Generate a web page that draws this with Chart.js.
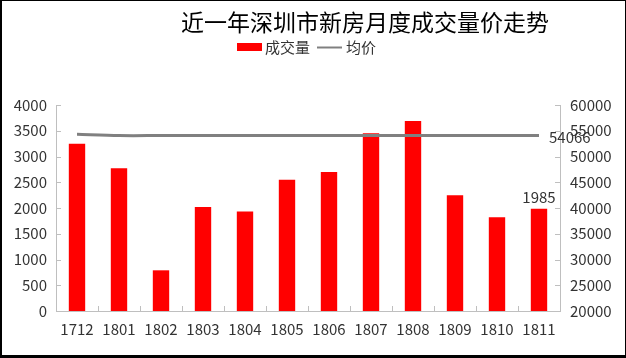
<!DOCTYPE html>
<html><head><meta charset="utf-8">
<script src="https://cdn.jsdelivr.net/npm/chart.js@4/dist/chart.umd.min.js"></script>
<style>html,body{margin:0;padding:0;background:#fff}#wrap{width:626px;height:358px;position:relative}</style>
</head><body><div id="wrap"><canvas id="c" width="626" height="358"></canvas></div>
<script>
const titleText = '近一年深圳市新房月度成交量价走势';
const categories = ['1712','1801','1802','1803','1804','1805','1806','1807','1808','1809','1810','1811'];
const volumeLabel = '成交量';
const volume = [3250, 2770, 790, 2020, 1930, 2550, 2700, 3450, 3690, 2250, 1820, 1985];
const priceLabel = '均价';
const price = [54300, 54066, 54066, 54066, 54066, 54066, 54066, 54066, 54066, 54066, 54066, 54066];
const leftTicks = [0, 500, 1000, 1500, 2000, 2500, 3000, 3500, 4000];
const rightTicks = [20000, 25000, 30000, 35000, 40000, 45000, 50000, 55000, 60000];

const FONT = '"Noto Sans CJK SC", "Noto Sans", sans-serif';
const TXT = '#333333';
const AX = '#bfbfbf';

const decor = {
  id: 'decor',
  afterDatasetsDraw(chart) {
    const ctx = chart.ctx;
    const ca = chart.chartArea;
    const x = chart.scales.x, yl = chart.scales.y, yr = chart.scales.y1;
    ctx.save();
    ctx.strokeStyle = AX; ctx.lineWidth = 1;
    ctx.beginPath();
    yl.ticks.forEach((t, i) => { const p = Math.round(yl.getPixelForTick(i)) + 0.5; ctx.moveTo(ca.left, p); ctx.lineTo(ca.left + 5, p); });
    yr.ticks.forEach((t, i) => { const p = Math.round(yr.getPixelForTick(i)) + 0.5; ctx.moveTo(ca.right - 5, p); ctx.lineTo(ca.right, p); });
    for (let i = 1; i < categories.length; i++) {
      const p = Math.round((x.getPixelForValue(i - 1) + x.getPixelForValue(i)) / 2) + 0.5;
      ctx.moveTo(p, ca.bottom); ctx.lineTo(p, ca.bottom - 5);
    }
    ctx.stroke();
    ctx.fillStyle = TXT;
    ctx.font = '15px ' + FONT;
    const barMeta = chart.getDatasetMeta(0);
    const lastBar = barMeta.data[volume.length - 1];
    ctx.textAlign = 'center'; ctx.textBaseline = 'bottom';
    ctx.fillText(String(volume[volume.length - 1]), lastBar.x, lastBar.y - 4);
    const lineMeta = chart.getDatasetMeta(1);
    const lastPt = lineMeta.data[price.length - 1];
    ctx.textAlign = 'left'; ctx.textBaseline = 'middle';
    ctx.fillText(String(price[price.length - 1]), lastPt.x + 10, lastPt.y + 2);
    ctx.restore();
  },
  afterDraw(chart) {
    const ctx = chart.ctx;
    ctx.save();
    ctx.fillStyle = '#000';
    ctx.font = '23px ' + FONT;
    ctx.textAlign = 'center'; ctx.textBaseline = 'middle';
    ctx.fillText(titleText, 365, 22);
    ctx.font = '15px ' + FONT;
    ctx.textAlign = 'left';
    ctx.fillStyle = chart.data.datasets[0].backgroundColor;
    ctx.fillRect(237, 43, 25, 8);
    ctx.fillStyle = TXT;
    ctx.fillText(chart.data.datasets[0].label, 265, 47);
    ctx.strokeStyle = chart.data.datasets[1].borderColor; ctx.lineWidth = 2;
    ctx.beginPath(); ctx.moveTo(317, 47.5); ctx.lineTo(342, 47.5); ctx.stroke();
    ctx.fillText(chart.data.datasets[1].label, 346, 47);
    ctx.fillStyle = '#000';
    ctx.fillRect(0, 0, 626, 1);
    ctx.fillRect(0, 0, 2, 358);
    ctx.fillRect(625, 0, 1, 358);
    ctx.fillRect(0, 355, 626, 3);
    ctx.restore();
  }
};

new Chart(document.getElementById('c'), {
  data: {
    labels: categories,
    datasets: [
      { type: 'bar', label: volumeLabel, data: volume, backgroundColor: '#ff0000', yAxisID: 'y', order: 2,
        categoryPercentage: 1, barPercentage: 0.39 },
      { type: 'line', label: priceLabel, data: price, borderColor: '#808080', borderWidth: 3, pointRadius: 0,
        tension: 0.3, yAxisID: 'y1', order: 1, fill: false }
    ]
  },
  options: {
    responsive: false, animation: false,
    layout: { padding: { top: 105, left: 0, right: 0, bottom: 0 } },
    plugins: { legend: { display: false }, title: { display: false }, tooltip: { enabled: false } },
    scales: {
      x: {
        offset: true,
        grid: { display: false, drawTicks: false },
        border: { display: true, color: AX, width: 1 },
        ticks: { color: TXT, font: { family: FONT, size: 15 }, padding: 9, maxRotation: 0, autoSkip: false },
        afterFit(s) { s.height = 47; }
      },
      y: {
        position: 'left', min: 0, max: 4000,
        afterBuildTicks(s) { s.ticks = leftTicks.map(v => ({ value: v })); },
        grid: { display: false, drawTicks: false },
        border: { display: true, color: AX, width: 1 },
        ticks: { color: TXT, font: { family: FONT, size: 15 }, padding: 9, callback: v => String(v) },
        afterFit(s) { s.width = 56; }
      },
      y1: {
        position: 'right', min: 20000, max: 60000,
        afterBuildTicks(s) { s.ticks = rightTicks.map(v => ({ value: v })); },
        grid: { display: false, drawTicks: false },
        border: { display: true, color: AX, width: 1 },
        ticks: { color: TXT, font: { family: FONT, size: 15 }, padding: 10, callback: v => String(v) },
        afterFit(s) { s.width = 66; }
      }
    }
  },
  plugins: [decor]
});
</script></body></html>
